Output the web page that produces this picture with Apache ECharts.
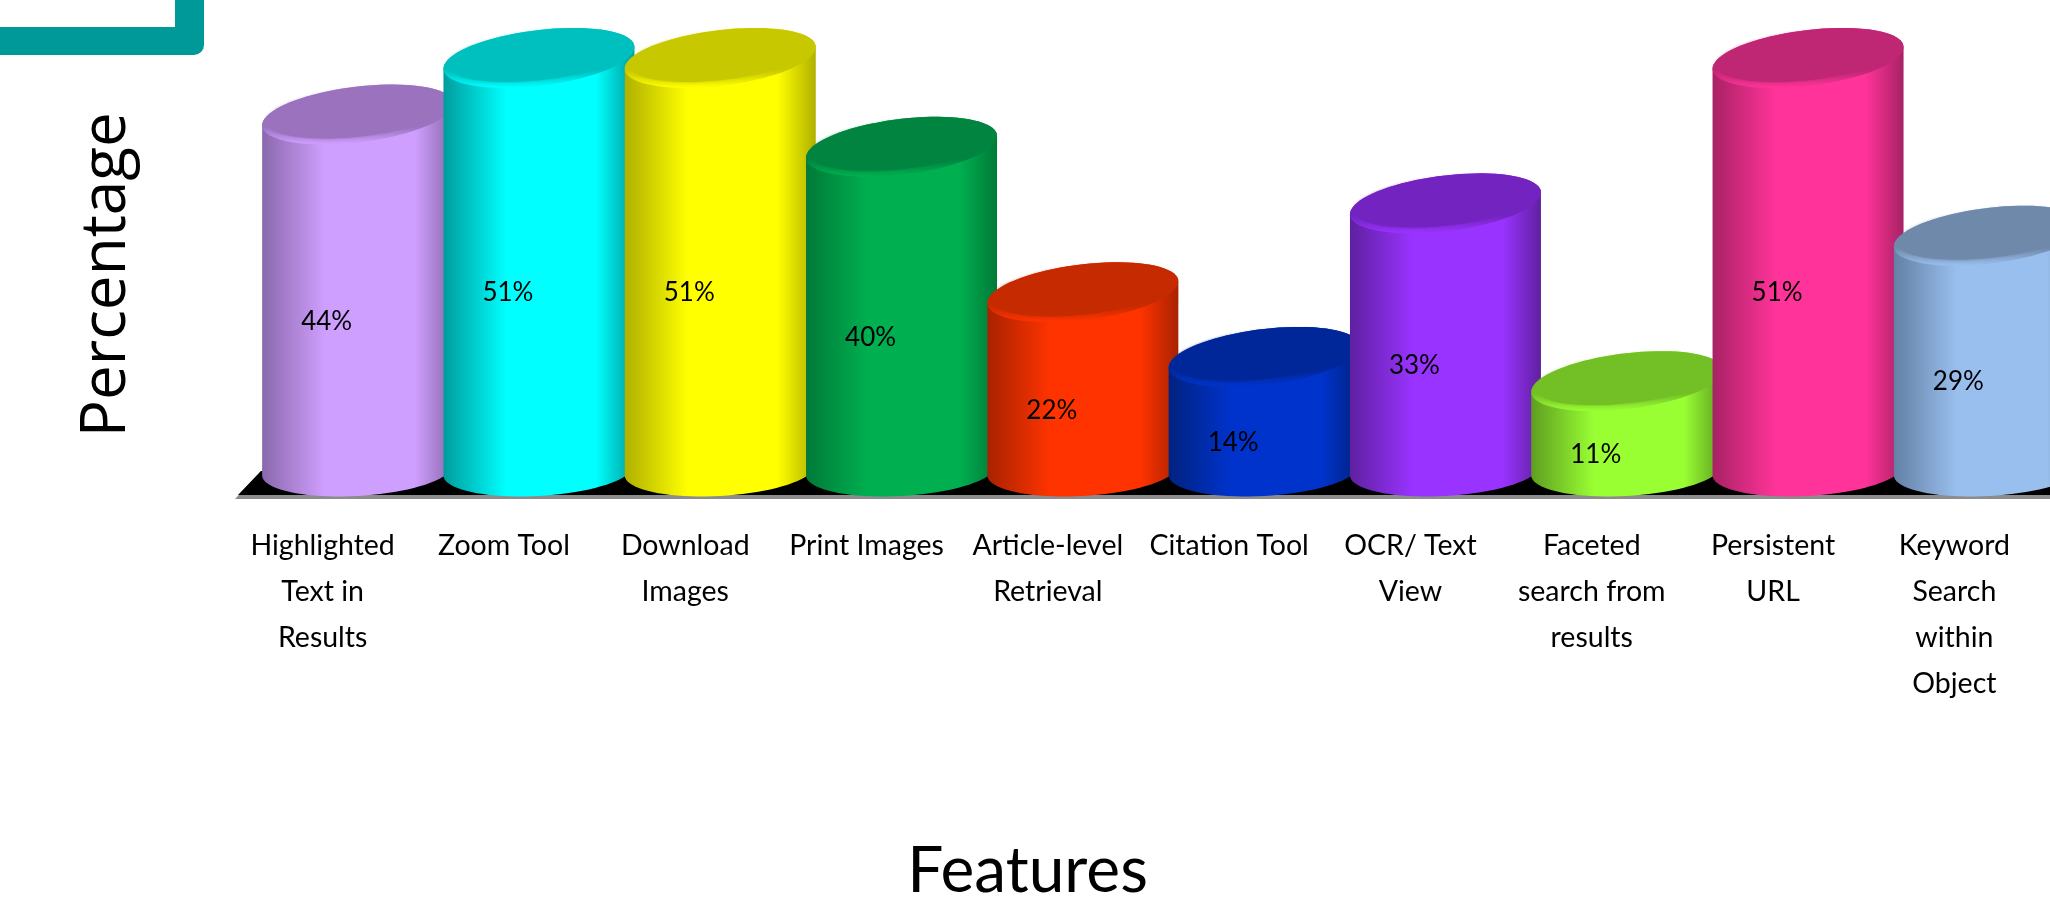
<!DOCTYPE html>
<html>
<head>
<meta charset="utf-8">
<style>html,body{margin:0;padding:0;background:#fff}#c{width:2050px;height:906px}</style>
<script src="https://cdn.jsdelivr.net/npm/echarts@6/dist/echarts.min.js"></script>
</head>
<body>
<div id="c"></div>
<script>
const categories = ['Highlighted\nText in\nResults','Zoom Tool','Download\nImages','Print Images','Article-level\nRetrieval','Citation Tool','OCR/ Text\nView','Faceted\nsearch from\nresults','Persistent\nURL','Keyword\nSearch\nwithin\nObject'];
const values = [44,51,51,40,22,14,33,11,51,29];
const bodyColors = ['#CF9FFF','#00FFFF','#FFFF00','#00B050','#FF3300','#0033CC','#9933FF','#99FF33','#FF3399','#99BFEE'];
const edgeColors = ['#8A68AC','#009C9C','#B0B000','#007A38','#A82200','#00227F','#5F20A0','#5F9E20','#A82264','#6480A5'];
const topColors = ['#9A72BE','#00BFBF','#C8C800','#008440','#C62A00','#00279A','#7323BF','#73BF26','#BF2673','#6F89AB'];

const halfW = 95.5, capH = 30, baseH = 26.5, capSkew = -0.37, baseSkew = -0.2, shiftX = 35;
function arc(cx, cy, w, h, skew, from, to, n) {
  const pts = [];
  for (let i = 0; i <= n; i++) {
    const t = from + (to - from) * i / n;
    pts.push([cx + w * Math.cos(t), cy + h * Math.sin(t + skew)]);
  }
  return pts;
}
function columnItem(params, api) {
  const i = api.value(0), v = api.value(1);
  const top = api.coord([i, v]);
  const base = api.coord([i, 0]);
  const mid = api.coord([i, v / 2]);
  const cx = top[0] + shiftX;
  const grad = new echarts.graphic.LinearGradient(0, 0, 1, 0, [
    {offset: 0, color: edgeColors[i]},
    {offset: 0.33, color: bodyColors[i]},
    {offset: 0.8, color: bodyColors[i]},
    {offset: 1, color: edgeColors[i]}
  ]);
  const rimGrad = new echarts.graphic.LinearGradient(0, 0, 0, 1, [
    {offset: 0, color: topColors[i]},
    {offset: 0.7, color: topColors[i]},
    {offset: 1, color: bodyColors[i]}
  ]);
  const silhouette = arc(cx, top[1], halfW, capH, capSkew, Math.PI, 2 * Math.PI, 40)
    .concat(arc(cx, base[1], halfW, baseH, baseSkew, 0, Math.PI, 40));
  const rim = arc(cx, top[1], halfW, capH, capSkew, 0, 2 * Math.PI, 80);
  const face = arc(cx, top[1] - 2, halfW - 4, capH - 4, capSkew, 0, 2 * Math.PI, 80);
  return {type: 'group', children: [
    {type: 'polygon', shape: {points: silhouette}, style: {fill: grad}},
    {type: 'polygon', shape: {points: rim}, style: {fill: rimGrad}},
    {type: 'polygon', shape: {points: face}, style: {fill: topColors[i], shadowBlur: 3, shadowColor: topColors[i]}},
    {type: 'text', style: {
      text: values[i] + '%', x: top[0] + 4, y: mid[1] + 29,
      align: 'center', verticalAlign: 'middle',
      font: '26px Lato, sans-serif', fill: '#000'
    }}
  ]};
}
const chart = echarts.init(document.getElementById('c'), null, {renderer: 'canvas'});
chart.setOption({
  animation: false,
  backgroundColor: '#fff',
  grid: {left: 232, width: 1813, top: 25.6, bottom: 436, containLabel: false, outerBoundsMode: 'none'},
  xAxis: {
    type: 'category', data: categories,
    axisLine: {show: false}, axisTick: {show: false}, splitLine: {show: false},
    axisLabel: {interval: 0, margin: 53, color: '#000', fontSize: 28.5, lineHeight: 46,
      fontFamily: 'Lato, sans-serif', verticalAlign: 'top', hideOverlap: false},
    name: 'Features', nameLocation: 'middle', nameGap: 369,
    nameTextStyle: {color: '#000', fontSize: 64, fontFamily: 'Lato, sans-serif', padding: [0, 222, 0, 0]}
  },
  yAxis: {
    type: 'value', min: 0, max: 55, interval: 5,
    axisLine: {show: false}, axisTick: {show: false}, splitLine: {show: false}, axisLabel: {show: false},
    name: 'Percentage', nameLocation: 'middle', nameGap: 94,
    nameTextStyle: {color: '#000', fontSize: 62, fontFamily: '"Open Sans", sans-serif', padding: [0, 54, 0, 0]}
  },
  graphic: [
    {type: 'rect', silent: true, z: 0, shape: {x: -40, y: -40, width: 244, height: 95, r: 10}, style: {fill: '#009999'}},
    {type: 'rect', silent: true, z: 1, shape: {x: -40, y: -40, width: 215, height: 67}, style: {fill: '#fff'}},
    {type: 'polygon', silent: true, z: 0, shape: {points: [[235, 499], [261, 471], [2050, 471], [2050, 499]]}, style: {fill: '#8c8c8c'}},
    {type: 'polygon', silent: true, z: 1, shape: {points: [[238, 495], [261, 471], [2050, 471], [2050, 495]]}, style: {fill: '#000'}}
  ],
  series: [{
    type: 'custom', clip: false,
    renderItem: columnItem,
    encode: {x: 0, y: 1},
    data: values.map((v, i) => [i, v])
  }]
});
</script>
</body>
</html>
